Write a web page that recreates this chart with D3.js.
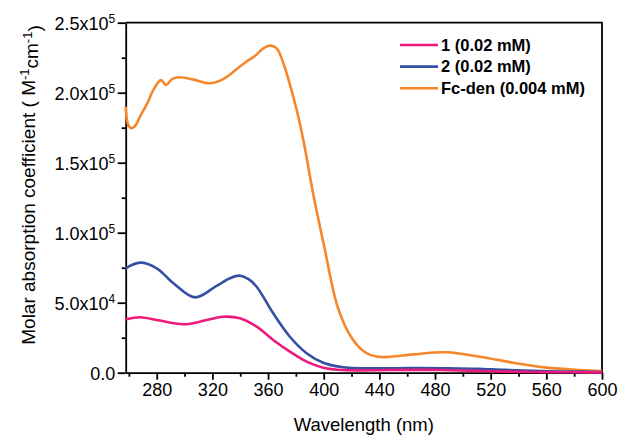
<!DOCTYPE html>
<html>
<head>
<meta charset="utf-8">
<script src="https://cdn.jsdelivr.net/npm/d3@7"></script>
<style>
  body { margin: 0; background: #fff; }
  text { font-family: "Liberation Sans", Arial, sans-serif; fill: #000; }
</style>
</head>
<body>
<div id="chart"></div>
<script>
// data (wavelength in nm, absorption in 10^3 M-1 cm-1)
var fcWl  = [257.7, 258.5, 260, 262, 265, 268, 273, 277.6, 283, 286.7, 290.8, 295.5, 306, 318, 325.5, 332.7, 338.7, 344.6, 350.6, 356.6, 361.4, 366.2, 371, 375.8, 380.6, 385.4, 392.6, 400.4, 410, 419.6, 429.2, 438.8, 448.4, 464.4, 488.3, 512.3, 536.3, 560.2, 584.2, 600];
var fcVal = [190, 181, 176, 174.6, 177, 183, 192, 202, 209, 205.5, 209.5, 211, 209.5, 206.7, 208.6, 213, 217.8, 222.3, 226.2, 231.7, 233.6, 231.7, 221, 205.5, 187.6, 166, 127, 90, 47, 25.7, 15, 11.4, 11.4, 13.1, 14.6, 11.4, 7.1, 3.6, 1.9, 1.2];

var c2Wl  = [257.7, 268, 280, 292, 307.5, 323, 333, 339.8, 346, 351.8, 363.7, 375.7, 387.7, 399.7, 414, 448, 470, 490, 510, 530, 550, 570, 590, 600];
var c2Val = [74.6, 78.6, 74.6, 63.9, 53.8, 62, 67.6, 69.3, 66.8, 61.4, 42.4, 25.7, 13.9, 7.1, 3.9, 3.1, 3.4, 3.2, 2.8, 2.0, 1.4, 0.9, 0.6, 0.5];

var c1Wl  = [257.7, 268, 280, 299, 311, 327.8, 339.8, 351.8, 363.7, 375.7, 387.7, 399.7, 414, 448, 470, 490, 510, 530, 550, 570, 590, 600];
var c1Val = [38.1, 39.6, 37.6, 34.6, 36.4, 40, 38.9, 32.9, 23.4, 15, 7.9, 3.6, 1.9, 1.9, 2.0, 1.8, 1.3, 0.8, 0.5, 0.35, 0.25, 0.2];

var seriesNames = ["1 (0.02 mM)", "2 (0.02 mM)", "Fc-den (0.004 mM)"];
var seriesColors = ["#ec1a7c", "#3450a2", "#f7862b"];

var xTicks = [280, 320, 360, 400, 440, 480, 520, 560, 600];
var xMinor = [260, 300, 340, 380, 420, 460, 500, 540, 580];
var yTicks = [0, 50000, 100000, 150000, 200000, 250000];
var yMinor = [25000, 75000, 125000, 175000, 225000];
var yTickLabels = [["0.0", ""], ["5.0x10", "4"], ["1.0x10", "5"], ["1.5x10", "5"], ["2.0x10", "5"], ["2.5x10", "5"]];

var W = 618, H = 436;
var margin = {top: 22.7, right: 16, bottom: 63.3, left: 125.7};
var width = W - margin.left - margin.right;
var height = H - margin.top - margin.bottom;

var svg = d3.select("#chart").append("svg")
    .attr("width", W)
    .attr("height", H);
var g = svg.append("g")
    .attr("transform", "translate(" + margin.left + "," + margin.top + ")");

var x = d3.scaleLinear().domain([257.7, 600]).range([0, width]);
var y = d3.scaleLinear().domain([0, 250000]).range([height, 0]);

// minor ticks
g.append("g")
    .attr("transform", "translate(0," + height + ")")
    .call(d3.axisBottom(x).tickValues(xMinor).tickSize(4).tickFormat(""))
    .call(function(a) { a.select(".domain").remove(); });
g.append("g")
    .call(d3.axisLeft(y).tickValues(yMinor).tickSize(4).tickFormat(""))
    .call(function(a) { a.select(".domain").remove(); });

// major x axis
var xAxis = g.append("g")
    .attr("transform", "translate(0," + height + ")")
    .call(d3.axisBottom(x).tickValues(xTicks).tickSize(7).tickSizeOuter(0).tickPadding(4));
xAxis.selectAll("text").style("font-size", "18px");

// major y axis with superscript labels
var yAxis = g.append("g")
    .call(d3.axisLeft(y).tickValues(yTicks).tickSize(8).tickSizeOuter(0).tickPadding(3).tickFormat(""));
yAxis.selectAll(".tick").each(function(d, i) {
  var t = d3.select(this).select("text")
      .attr("dy", "0.36em")
      .attr("x", -10.5)
      .style("font-size", "18px");
  t.append("tspan").text(yTickLabels[i][0]);
  if (yTickLabels[i][1]) {
    t.append("tspan").attr("dy", "-0.55em").style("font-size", "12px").text(yTickLabels[i][1]);
  }
});

g.selectAll(".domain, .tick line").attr("stroke", "#000").attr("stroke-width", 1.8);

// top and right frame
g.append("path")
    .attr("d", "M0,0H" + width + "V" + height)
    .attr("fill", "none")
    .attr("stroke", "#000")
    .attr("stroke-width", 1.8);

// curves
var line = d3.line()
    .x(function(d) { return x(d[0]); })
    .y(function(d) { return y(d[1] * 1000); })
    .curve(d3.curveCatmullRom);

var series = [d3.zip(c1Wl, c1Val), d3.zip(c2Wl, c2Val), d3.zip(fcWl, fcVal)];
// draw orange first, then blue, then pink
[2, 1, 0].forEach(function(k) {
  g.append("path")
      .datum(series[k])
      .attr("fill", "none")
      .attr("stroke", seriesColors[k])
      .attr("stroke-width", 2.6)
      .attr("d", line);
});

// legend
var legend = svg.append("g").attr("transform", "translate(400,45)");
seriesNames.forEach(function(name, i) {
  var row = legend.append("g").attr("transform", "translate(0," + (i * 21.6) + ")");
  row.append("line")
      .attr("x1", 0).attr("x2", 38)
      .attr("stroke", seriesColors[i])
      .attr("stroke-width", 2.6);
  row.append("text")
      .attr("x", 41)
      .attr("y", 5.8)
      .style("font-size", "16.5px")
      .style("font-weight", "bold")
      .text(name);
});

// axis titles
svg.append("text")
    .attr("x", margin.left + width / 2)
    .attr("y", 431)
    .attr("text-anchor", "middle")
    .style("font-size", "18.5px")
    .text("Wavelength (nm)");

var yt = svg.append("text")
    .attr("transform", "translate(35,185) rotate(-90)")
    .attr("text-anchor", "middle")
    .style("font-size", "19px");
yt.append("tspan").text("Molar absorption coefficient ( M");
yt.append("tspan").attr("dy", "-0.5em").style("font-size", "13px").text("-1");
yt.append("tspan").attr("dy", "0.5em").text("cm");
yt.append("tspan").attr("dy", "-0.5em").style("font-size", "13px").text("-1");
yt.append("tspan").attr("dy", "0.5em").text(")");
</script>
</body>
</html>
